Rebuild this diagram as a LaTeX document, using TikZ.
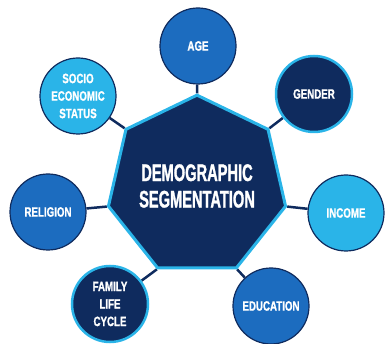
\documentclass[tikz,border=0pt]{standalone}
\usepackage{fontspec}
\newfontfamily\hubfont{Liberation Sans Bold}[FakeStretch=0.61, FakeBold=1.2]
\newfontfamily\bubblefont{Liberation Sans Bold}[FakeStretch=0.72, FakeBold=1.2]
\usetikzlibrary{shapes.geometric,backgrounds}

\begin{document}
\begin{tikzpicture}[x=1pt, y=-1pt]
  % colours
  \definecolor{navy}{HTML}{0F2B5E}
  \definecolor{midblue}{HTML}{1C6CBF}
  \definecolor{skyblue}{HTML}{2AB4E8}

  % styles
  \tikzstyle{hub} = [regular polygon, regular polygon sides=7, minimum size=160pt,
    inner sep=0pt, fill=navy, draw=skyblue, line width=3pt, text=white, align=center,
    font=\hubfont\fontsize{24}{26.5}\selectfont]
  \tikzstyle{bubble} = [circle, minimum size=76pt, inner sep=0pt, text=white, align=center,
    font=\bubblefont\fontsize{13.5}{17.5}\selectfont]
  \tikzstyle{blue bubble} = [bubble, fill=midblue, draw=navy, line width=1.2pt]
  \tikzstyle{sky bubble} = [bubble, fill=skyblue, draw=navy, line width=1.2pt]
  \tikzstyle{navy bubble} = [bubble, fill=navy, draw=skyblue, line width=2.5pt]
  \tikzstyle{spoke} = [draw=navy, line width=2.5pt]

  \useasboundingbox (0, 0) rectangle (385, 344);

  % centre
  \node[hub] (hub) at (197, 186) {DEMOGRAPHIC\\SEGMENTATION};

  % segments
  \node[blue bubble] (age) at (198, 46) {AGE};
  \node[navy bubble] (gender) at (314, 94) {GENDER};
  \node[sky bubble] (income) at (346, 213) {INCOME};
  \node[blue bubble] (education) at (271, 306) {EDUCATION};
  \node[navy bubble] (family) at (110, 304) {FAMILY\\LIFE\\CYCLE};
  \node[blue bubble] (religion) at (48, 212) {RELIGION};
  \node[sky bubble] (socio) at (78, 96) {SOCIO\\ECONOMIC\\STATUS};

  % spokes
  \begin{scope}[on background layer]
    \draw[spoke] (age) -- (hub.corner 1);
    \draw[spoke] (socio) -- (hub.corner 2);
    \draw[spoke] (religion) -- (hub.corner 3);
    \draw[spoke] (family) -- (hub.corner 4);
    \draw[spoke] (education) -- (hub.corner 5);
    \draw[spoke] (income) -- (hub.corner 6);
    \draw[spoke] (gender) -- (hub.corner 7);
  \end{scope}
\end{tikzpicture}
\end{document}
